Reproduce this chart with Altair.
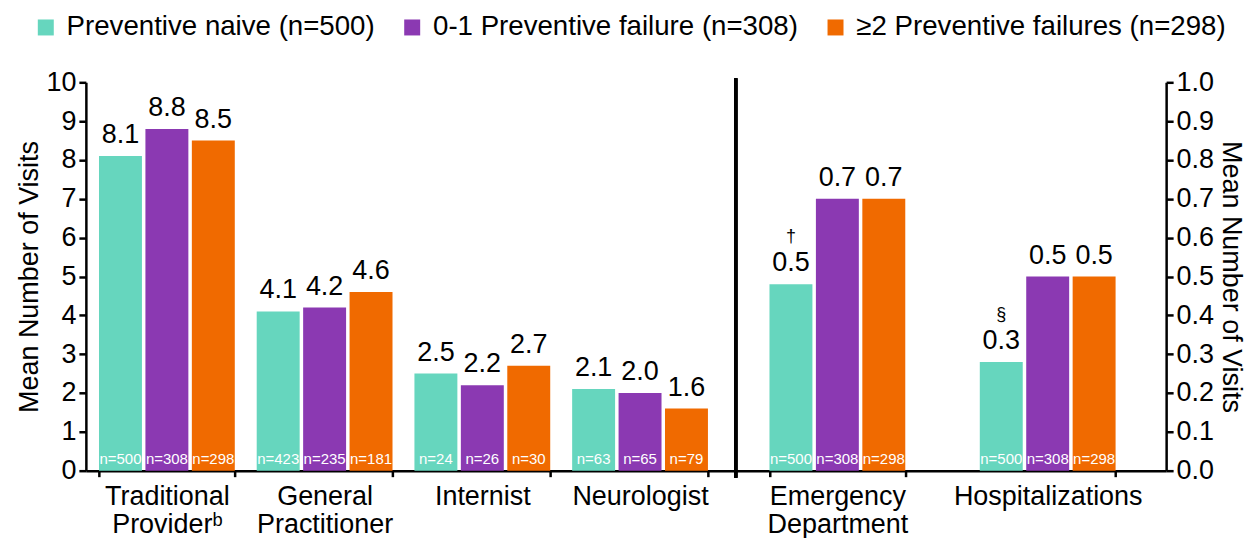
import altair as alt
import pandas as pd

series = ["Preventive naive (n=500)", "0-1 Preventive failure (n=308)", "≥2 Preventive failures (n=298)"]
palette = ["#66D6BE", "#8B39B2", "#F06A00"]

left_categories = ["Traditional\nProviderᵇ", "General\nPractitioner", "Internist", "Neurologist"]
left_naive = [8.1, 4.1, 2.5, 2.1]
left_fail01 = [8.8, 4.2, 2.2, 2.0]
left_fail2 = [8.5, 4.6, 2.7, 1.6]
left_n_naive = [500, 423, 24, 63]
left_n_fail01 = [308, 235, 26, 65]
left_n_fail2 = [298, 181, 30, 79]

right_categories = ["Emergency\nDepartment", "Hospitalizations"]
right_naive = [0.48, 0.28]
right_fail01 = [0.70, 0.50]
right_fail2 = [0.70, 0.50]
right_label_naive = ["0.5", "0.3"]
right_label_fail01 = ["0.7", "0.5"]
right_label_fail2 = ["0.7", "0.5"]
right_n_naive = [500, 500]
right_n_fail01 = [308, 308]
right_n_fail2 = [298, 298]
right_marks = ["†", "§"]

FONT = "Liberation Sans"


def build_rows(cats, vals, labels, ns, marks=None):
    rows = []
    for i, c in enumerate(cats):
        for s_i, s in enumerate(series):
            rows.append({
                "cat": c,
                "series": s,
                "value": vals[s_i][i],
                "label": labels[s_i][i],
                "nlab": f"n={ns[s_i][i]}",
                "zero": 0,
                "mark": (marks[i] if (marks is not None and s_i == 0) else ""),
            })
    return pd.DataFrame(rows)


left_df = build_rows(
    left_categories,
    [left_naive, left_fail01, left_fail2],
    [[f"{v:.1f}" for v in left_naive], [f"{v:.1f}" for v in left_fail01], [f"{v:.1f}" for v in left_fail2]],
    [left_n_naive, left_n_fail01, left_n_fail2],
)
right_df = build_rows(
    right_categories,
    [right_naive, right_fail01, right_fail2],
    [right_label_naive, right_label_fail01, right_label_fail2],
    [right_n_naive, right_n_fail01, right_n_fail2],
    right_marks,
)

TITLE = "Mean Number of Visits"
H = 389

color = alt.Color(
    "series:N", sort=series,
    scale=alt.Scale(domain=series, range=palette),
    legend=alt.Legend(
        title=None, orient="none", direction="horizontal",
        legendX=-54, legendY=-69,
        symbolType="square", symbolSize=256, symbolStrokeWidth=0, symbolOpacity=1,
        labelFont=FONT, labelFontSize=27.7, labelColor="black",
        labelOffset=7, columnPadding=23, padding=0, labelLimit=500,
    ),
)


def panel(df, cats, ydom, yaxis, width, pin, pout, align, marks=False):
    x = alt.X(
        "cat:N", sort=cats, title=None,
        scale=alt.Scale(paddingInner=pin, paddingOuter=pout, align=align),
        axis=alt.Axis(labelExpr="split(datum.label, '\\n')", labelAngle=0,
                      tickBand="extent", labelPadding=7, labelLineHeight=28,
                      tickSize=6, labelLimit=400),
    )
    xo = alt.XOffset("series:N", sort=series,
                     scale=alt.Scale(paddingInner=0.075, paddingOuter=0))
    yscale = alt.Scale(domain=ydom, nice=False, zero=True)
    y = alt.Y("value:Q", scale=yscale, axis=yaxis, title=TITLE)
    base = alt.Chart(df)
    bars = base.mark_bar().encode(x=x, xOffset=xo, y=y, color=color)
    vals = base.mark_text(baseline="alphabetic", dy=-13, fontSize=27, font=FONT,
                          color="black").encode(x=x, xOffset=xo, y=y, text="label:N")
    ns = base.mark_text(baseline="alphabetic", dy=-7, fontSize=15, font=FONT,
                        color="white").encode(
        x=x, xOffset=xo,
        y=alt.Y("zero:Q", scale=yscale, axis=yaxis, title=TITLE),
        text="nlab:N")
    layers = [bars, vals, ns]
    if marks:
        mk = base.mark_text(baseline="alphabetic", dy=-42, fontSize=18, font=FONT,
                            color="black").encode(x=x, xOffset=xo, y=y, text="mark:N")
        sep = base.mark_rule(color="black", strokeWidth=3).encode(
            x=alt.value(0), y=alt.value(-4), y2=alt.value(H + 7))
        layers += [mk, sep]
    return alt.layer(*layers).properties(width=width, height=H)


left_axis = alt.Axis(orient="left", values=list(range(0, 11)), format="d",
                     labelPadding=3, titlePadding=2)
right_axis = alt.Axis(orient="right", values=[i / 10 for i in range(0, 11)], format=".1f",
                      labelPadding=3, titlePadding=3)

left = panel(left_df, left_categories, [0, 10], left_axis, 651, 0.139, 0.13, 0.32)
right = panel(right_df, right_categories, [0, 1], right_axis, 431, 0.354, 0.2, 0.40, marks=True)

chart = alt.hconcat(left, right, spacing=0, bounds="flush").properties(
    padding={"left": 7, "top": 5, "right": 4, "bottom": 0}
).configure_view(stroke=None).configure_axis(
    grid=False,
    labelFont=FONT, labelFontSize=27, labelColor="black",
    titleFont=FONT, titleFontSize=27, titleFontWeight="normal", titleColor="black",
    domainColor="black", domainWidth=2.5, tickColor="black", tickWidth=2.5, tickSize=7,
)

chart.save("out.html", embed_options={"renderer": "svg", "actions": False})
